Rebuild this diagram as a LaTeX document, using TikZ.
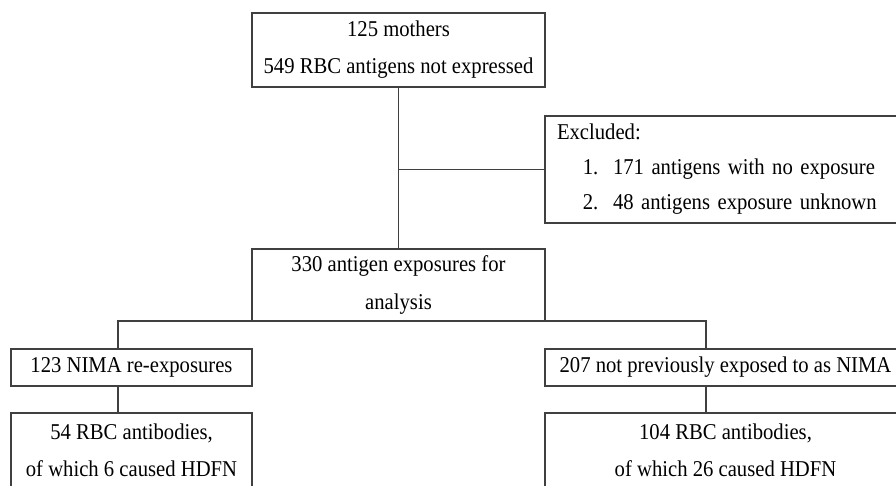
\documentclass[tikz,border=0pt]{standalone}
\usepackage{fontspec}
\setmainfont{Liberation Serif}[FakeStretch=0.915]
\usepackage{tikz}
\usetikzlibrary{positioning}
\newcommand{\pxu}{0.58pt}

\begin{document}
\begin{tikzpicture}[
        x=0.58pt, y=-0.58pt,
        box/.style = {draw=black!75, rectangle, line width=0.6pt, align=center, inner sep=0pt, font=\fontsize{13.1}{21.5}\selectfont},
        widebox/.style = {box, minimum width=293*\pxu},
        sidebox/.style = {box, minimum width=361*\pxu},
        leftbox/.style = {box, minimum width=241*\pxu},
        listbox/.style = {box, align=left, inner xsep=12*\pxu, text width=337*\pxu, minimum height=107*\pxu, font=\fontsize{13.1}{20.3}\selectfont},
        link/.style = {draw=black!75, line width=0.6pt}
    ]
        \path[use as bounding box, clip] (0,0) rectangle (896,485);

        % Mothers
        \node (mothers) [widebox, minimum height=74*\pxu] at (398.5,50) {125 mothers\\549 RBC antigens not expressed};

        % Excluded antigens
        \node (excluded) [listbox] at (725.5,169.5) {
            Excluded:\\
            \hspace*{15pt}\makebox[17.5pt][l]{1.}171 antigens with no exposure\\
            \hspace*{15pt}\makebox[17.5pt][l]{2.}48 antigens exposure unknown
        };

        % Exposures
        \node (exposures) [widebox, minimum height=72*\pxu] at (398.5,285) {330 antigen exposures for\\analysis};

        % Split
        \node (reexp) [leftbox, minimum height=37*\pxu] at (131.5,367.5) {123 NIMA re-exposures};
        \node (notexp) [sidebox, minimum height=37*\pxu] at (725.5,367.5) {207 not previously exposed to as NIMA};

        % Antibodies
        \node (abreexp) [leftbox, minimum height=74*\pxu] at (131.5,450) {54 RBC antibodies,\\of which 6 caused HDFN};
        \node (abnotexp) [sidebox, minimum height=74*\pxu] at (725.5,450) {104 RBC antibodies,\\of which 26 caused HDFN};

        % Connectors
        \coordinate (jl) at (118,321);
        \coordinate (jr) at (706,321);
        \draw [link] (mothers.south) -- (exposures.north);
        \draw [link] (mothers.south |- excluded.west) -- (excluded.west);
        \draw [link] (reexp.north -| jl) -- (jl) -- (jr) -- (notexp.north -| jr);
        \draw [link] (reexp.south -| jl) -- (abreexp.north -| jl);
        \draw [link] (notexp.south -| jr) -- (abnotexp.north -| jr);

    \end{tikzpicture}
\end{document}
